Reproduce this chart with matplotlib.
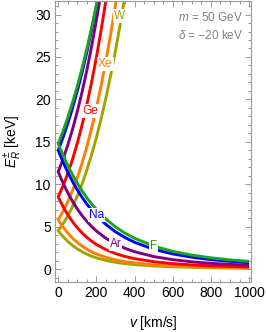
import matplotlib
matplotlib.use("Agg")
import matplotlib.pyplot as plt
from matplotlib.ticker import MultipleLocator

plt.rcParams['font.family'] = ['Liberation Sans', 'DejaVu Sans']
plt.rcParams['mathtext.fontset'] = 'custom'
plt.rcParams['mathtext.rm'] = 'Liberation Sans'
plt.rcParams['mathtext.it'] = 'Liberation Sans:italic'

# velocity grids (km/s)
v_low = [0, 10, 20, 30, 40, 60, 80, 100, 125, 150, 175, 200, 250, 300, 350,
         400, 500, 600, 700, 800, 900, 1000]
v_up = [0, 25, 50, 75, 100, 125, 150, 175, 200, 225, 250, 275, 300, 325, 350,
        375, 400]

targets = ['W', 'Xe', 'Ge', 'Ar', 'Na', 'F']

# E_R^- branch (keV) on v_low
E_minus = {
    'F':  [14.77, 14.22, 13.69, 13.18, 12.68, 11.76, 10.9, 10.11, 9.21, 8.4, 7.67, 7.01, 5.88, 4.97, 4.23, 3.62, 2.71, 2.08, 1.64, 1.32, 1.08, 0.9],
    'Na': [14.0, 13.44, 12.9, 12.39, 11.89, 10.97, 10.11, 9.33, 8.45, 7.66, 6.95, 6.32, 5.25, 4.39, 3.71, 3.15, 2.33, 1.78, 1.39, 1.11, 0.91, 0.75],
    'Ar': [11.47, 10.92, 10.4, 9.91, 9.44, 8.57, 7.78, 7.08, 6.29, 5.61, 5.01, 4.48, 3.62, 2.96, 2.44, 2.04, 1.47, 1.1, 0.85, 0.67, 0.54, 0.45],
    'Ge': [8.5, 8.03, 7.59, 7.17, 6.78, 6.06, 5.43, 4.86, 4.25, 3.73, 3.28, 2.89, 2.28, 1.82, 1.48, 1.22, 0.86, 0.63, 0.48, 0.38, 0.3, 0.25],
    'Xe': [5.8, 5.45, 5.12, 4.81, 4.52, 3.99, 3.53, 3.13, 2.7, 2.33, 2.03, 1.77, 1.37, 1.08, 0.87, 0.71, 0.49, 0.36, 0.27, 0.21, 0.17, 0.14],
    'W':  [4.52, 4.23, 3.96, 3.71, 3.48, 3.06, 2.69, 2.37, 2.03, 1.75, 1.51, 1.32, 1.01, 0.79, 0.63, 0.52, 0.36, 0.26, 0.2, 0.15, 0.12, 0.1],
}

# E_R^+ branch (keV) on v_up (until leaving the frame)
E_plus = {
    'F':  [14.77, 16.25, 17.87, 19.64, 21.58, 23.69, 25.98, 28.45, 31.13, 34.0],
    'Na': [14.0, 15.51, 17.17, 19.0, 21.01, 23.21, 25.6, 28.21, 31.03, 34.08],
    'Ar': [11.47, 12.95, 14.62, 16.49, 18.58, 20.89, 23.45, 26.26, 29.34, 32.69, 36.32],
    'Ge': [8.5, 9.79, 11.27, 12.95, 14.85, 17.0, 19.39, 22.05, 24.98, 28.2, 31.71, 35.53],
    'Xe': [5.8, 6.79, 7.94, 9.26, 10.77, 12.49, 14.43, 16.6, 19.0, 21.65, 24.56, 27.73, 31.15, 34.85],
    'W':  [4.52, 5.32, 6.27, 7.36, 8.61, 10.05, 11.67, 13.49, 15.51, 17.74, 20.19, 22.86, 25.76, 28.89, 32.25, 35.84],
}

colors = {'F': '#1aa51a', 'Na': '#0000ff', 'Ar': '#800080',
          'Ge': '#ff0000', 'Xe': '#ff8000', 'W': '#a3a300'}

# label anchor points (v, E) on each curve
label_pos = {'W': (322, 29.8), 'Xe': (247, 24.2), 'Ge': (166, 18.6),
             'Na': (200, 6.32), 'Ar': (300, 2.96), 'F': (500, 2.71)}

fig = plt.figure(figsize=(2.66, 3.32), dpi=100)
ax = fig.add_axes([55/266, 1 - 282/332, 196/266, 281/332])

for t in targets:
    n = len(E_plus[t])
    xs = v_up[:n][::-1] + v_low[1:]
    ys = E_plus[t][::-1] + E_minus[t][1:]
    ax.plot(xs, ys, color=colors[t], lw=2.1, solid_joinstyle='miter',
            solid_capstyle='butt')

for t in targets:
    x, y = label_pos[t]
    ax.text(x, y, t, color=colors[t], fontsize=8.5, ha='center', va='center',
            bbox=dict(facecolor='white', edgecolor='none', pad=0.8), zorder=5)

ax.set_xlim(-17, 1010)
ax.set_ylim(-1.53, 31.6)

ax.xaxis.set_major_locator(MultipleLocator(200))
ax.xaxis.set_minor_locator(MultipleLocator(50))
ax.yaxis.set_major_locator(MultipleLocator(5))
ax.yaxis.set_minor_locator(MultipleLocator(1))

gray = '#999999'
for sp in ax.spines.values():
    sp.set_color(gray)
    sp.set_linewidth(0.8)
ax.tick_params(which='both', direction='in', top=True, right=True,
               color=gray, labelsize=10, labelcolor='black', width=0.7, pad=3)
ax.tick_params(which='major', length=4)
ax.tick_params(which='minor', length=2)
ax.tick_params(top=True, right=True, labeltop=False, labelright=False)

ax.set_xlabel(r'$v$ [km/s]', fontsize=10, labelpad=10)
ax.set_ylabel(r'$E_R^{\pm}$ [keV]', fontsize=10, labelpad=8)

ax.text(0.959, 0.943, r'$m$ = 50 GeV', transform=ax.transAxes, ha='right',
        va='center', fontsize=8.5, color='#808080')
ax.text(0.959, 0.879, r'$\delta$ = $-$20 keV', transform=ax.transAxes, ha='right',
        va='center', fontsize=8.5, color='#808080')

fig.savefig('out.png', dpi=100)
